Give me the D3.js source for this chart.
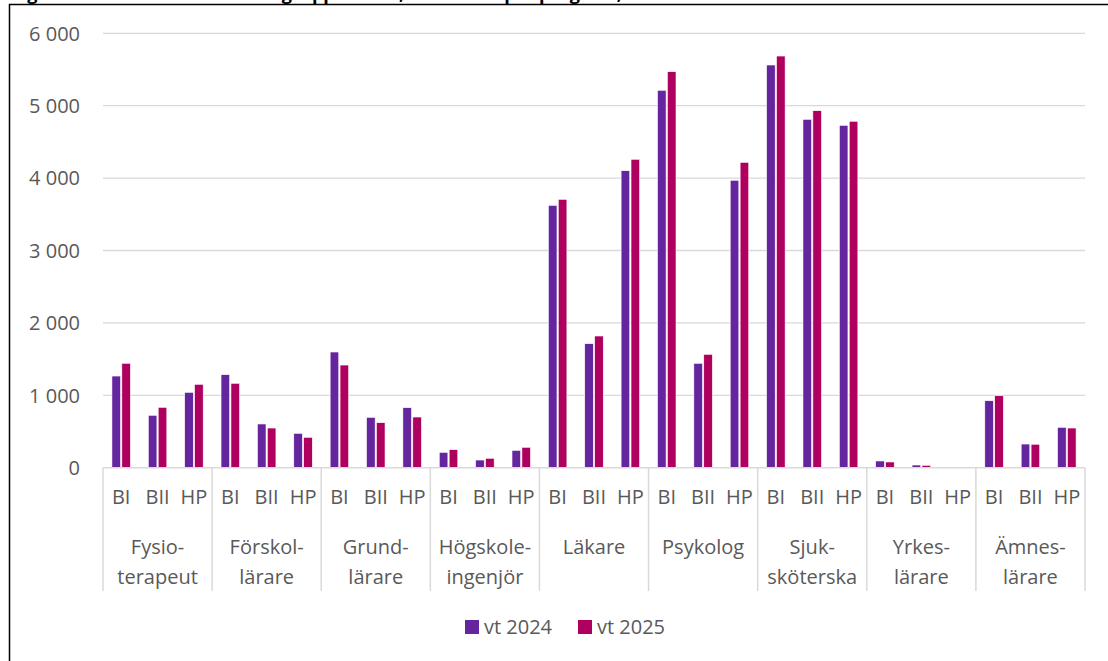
<!DOCTYPE html>
<html>
<head>
<meta charset="utf-8">
<script src="https://cdn.jsdelivr.net/npm/d3@7"></script>
<style>
    body { margin: 0; background: #fff; }
    svg { display: block; }
    text { font-family: "Open Sans", "Noto Sans", sans-serif; }
</style>
</head>
<body>
<svg id="chart" width="1108" height="661"></svg>
<script>

    var groups = [
        ['Fysio-', 'terapeut'],
        ['Förskol-', 'lärare'],
        ['Grund-', 'lärare'],
        ['Högskole-', 'ingenjör'],
        ['Läkare'],
        ['Psykolog'],
        ['Sjuk-', 'sköterska'],
        ['Yrkes-', 'lärare'],
        ['Ämnes-', 'lärare']
    ];
    var subGroups = ['BI', 'BII', 'HP'];
    var seriesNames = ['vt 2024', 'vt 2025'];

    // one row per group: BI, BII, HP
    var vt2024 = [
        [1266, 724, 1041],
        [1285, 604, 475],
        [1598, 696, 829],
        [212, 106, 240],
        [3624, 1713, 4102],
        [5213, 1442, 3970],
        [5562, 4812, 4729],
        [93, 37, 8],
        [925, 327, 558]
    ];
    var vt2025 = [
        [1442, 834, 1152],
        [1166, 548, 420],
        [1418, 622, 700],
        [249, 130, 282],
        [3707, 1819, 4260],
        [5470, 1566, 4218],
        [5686, 4931, 4785],
        [79, 33, 5],
        [994, 324, 548]
    ];
    var yTicks = [0, 1000, 2000, 3000, 4000, 5000, 6000];

    var colors = ['#64259e', '#af005f'];
    var gridColor = '#d9d9d9';
    var textColor = '#595959';

    var svg = d3.select('#chart');

    var plotLeft = 103, plotRight = 1085, plotTop = 33.3, plotBottom = 467.7;

    var groupKeys = groups.map(function (g) { return g.join(''); });

    var xGroup = d3.scaleBand()
        .domain(groupKeys)
        .range([plotLeft, plotRight]);

    var xSub = d3.scaleBand()
        .domain(subGroups)
        .range([0, xGroup.bandwidth()]);

    var xSeries = d3.scaleBand()
        .domain(seriesNames)
        .range([0, xSub.bandwidth()])
        .paddingInner(0.13)
        .paddingOuter(0.9);

    var yScale = d3.scaleLinear()
        .domain([0, 6000])
        .range([plotBottom, plotTop]);

    var fmt = d3.formatLocale({ decimal: ',', thousands: ' ', grouping: [3], currency: ['', ' kr'] }).format(',d');

    // frame round the figure (title sits above the visible area)
    svg.append('text')
        .attr('x', 12)
        .attr('y', 0)
        .style('font-weight', 'bold')
        .style('font-size', '18px')
        .attr('fill', '#000')
        .text('Figur 4. Antal sökande i urvalsgrupperna BI, BII och HP per program, vt 2024 och vt 2025');

    svg.append('path')
        .attr('d', 'M9.5,670V4.5H1120')
        .attr('fill', 'none')
        .attr('stroke', '#000')
        .attr('stroke-width', 1.5);

    // gridlines + y labels
    var grid = svg.append('g').classed('grid', true);
    grid.selectAll('line')
        .data(yTicks.filter(function (d) { return d > 0; }))
        .enter().append('line')
        .attr('x1', plotLeft)
        .attr('x2', plotRight)
        .attr('y1', function (d) { return yScale(d); })
        .attr('y2', function (d) { return yScale(d); })
        .attr('stroke', gridColor)
        .attr('stroke-width', 1.3);

    svg.append('g').selectAll('text')
        .data(yTicks)
        .enter().append('text')
        .attr('x', 80)
        .attr('y', function (d) { return yScale(d); })
        .attr('dy', '0.36em')
        .attr('text-anchor', 'end')
        .attr('fill', textColor)
        .style('font-size', '20px')
        .text(function (d) { return fmt(d); });

    // bars
    var rows = [];
    groupKeys.forEach(function (g, gi) {
        subGroups.forEach(function (s, si) {
            rows.push({ group: g, sub: s, values: [vt2024[gi][si], vt2025[gi][si]] });
        });
    });

    var bars = svg.append('g').classed('bars', true)
        .selectAll('g')
        .data(rows)
        .enter().append('g')
        .attr('transform', function (d) {
            return 'translate(' + (xGroup(d.group) + xSub(d.sub)) + ',0)';
        });

    bars.selectAll('rect')
        .data(function (d) {
            return d.values.map(function (v, i) { return { name: seriesNames[i], value: v, i: i }; });
        })
        .enter().append('rect')
        .attr('x', function (d) { return xSeries(d.name); })
        .attr('width', xSeries.bandwidth())
        .attr('y', function (d) { return yScale(d.value); })
        .attr('height', function (d) { return yScale(0) - yScale(d.value); })
        .attr('fill', function (d) { return colors[d.i]; })
        .attr('stroke', '#fff')
        .attr('stroke-width', 0.6);

    // category axis
    var axis = svg.append('g').classed('x-axis', true);

    axis.append('line')
        .attr('x1', plotLeft).attr('x2', plotRight)
        .attr('y1', plotBottom).attr('y2', plotBottom)
        .attr('stroke', gridColor)
        .attr('stroke-width', 1.5);

    var dividers = groupKeys.map(function (g) { return xGroup(g); }).concat([plotRight]);
    axis.selectAll('line.divider')
        .data(dividers)
        .enter().append('line')
        .classed('divider', true)
        .attr('x1', function (d) { return d; })
        .attr('x2', function (d) { return d; })
        .attr('y1', plotBottom)
        .attr('y2', 591)
        .attr('stroke', gridColor)
        .attr('stroke-width', 1.5);

    axis.selectAll('text.sub')
        .data(rows)
        .enter().append('text')
        .classed('sub', true)
        .attr('x', function (d) { return xGroup(d.group) + xSub(d.sub) + xSub.bandwidth() / 2; })
        .attr('y', 504)
        .attr('text-anchor', 'middle')
        .attr('fill', textColor)
        .style('font-size', '20px')
        .text(function (d) { return d.sub; });

    var groupLabels = axis.selectAll('text.group')
        .data(groups)
        .enter().append('text')
        .classed('group', true)
        .attr('x', function (d, i) { return xGroup(groupKeys[i]) + xGroup.bandwidth() / 2; })
        .attr('y', 554)
        .attr('text-anchor', 'middle')
        .attr('fill', textColor)
        .style('font-size', '20px');

    groupLabels.selectAll('tspan')
        .data(function (d) { return d; })
        .enter().append('tspan')
        .attr('x', function () { return d3.select(this.parentNode).attr('x'); })
        .attr('dy', function (d, i) { return i === 0 ? 0 : 30; })
        .text(function (d) { return d; });

    // legend
    var legendX = [465, 578];
    var legend = svg.append('g').classed('legend', true)
        .selectAll('g')
        .data(seriesNames)
        .enter().append('g')
        .attr('transform', function (d, i) { return 'translate(' + legendX[i] + ',620)'; });

    legend.append('rect')
        .attr('width', 14)
        .attr('height', 14)
        .attr('fill', function (d, i) { return colors[i]; });

    legend.append('text')
        .attr('x', 19)
        .attr('y', 14)
        .attr('fill', textColor)
        .style('font-size', '20px')
        .text(function (d) { return d; });

</script>
</body>
</html>
